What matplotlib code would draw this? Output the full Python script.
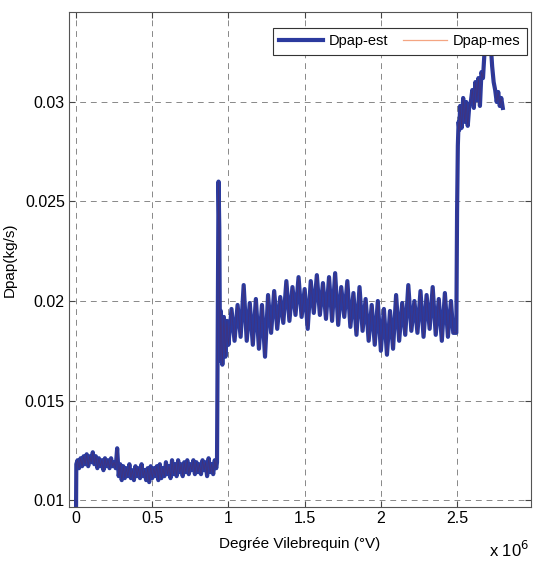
import numpy as np
import matplotlib
matplotlib.use('Agg')
import matplotlib.pyplot as plt

plt.rcParams['font.family'] = ['Liberation Sans', 'DejaVu Sans']

# degre vilebrequin (x 1e6) et debit (kg/s)
x_seg1 = [0.0, 0.002, 0.01, 0.02, 0.03, 0.04, 0.05, 0.06, 0.07, 0.08, 0.09,
          0.10, 0.11, 0.12, 0.13, 0.14, 0.15, 0.16, 0.17, 0.18, 0.19,
          0.20, 0.21, 0.22, 0.23, 0.24, 0.25, 0.26, 0.27, 0.28, 0.29,
          0.30, 0.31, 0.32, 0.33, 0.34, 0.35, 0.36, 0.37, 0.38, 0.39,
          0.40, 0.41, 0.42, 0.43, 0.44, 0.45, 0.46, 0.47, 0.48, 0.49,
          0.50, 0.51, 0.52, 0.53, 0.54, 0.55, 0.56, 0.57, 0.58, 0.59,
          0.60, 0.61, 0.62, 0.63, 0.64, 0.65, 0.66, 0.67, 0.68, 0.69,
          0.70, 0.71, 0.72, 0.73, 0.74, 0.75, 0.76, 0.77, 0.78, 0.79,
          0.80, 0.81, 0.82, 0.83, 0.84, 0.85, 0.86, 0.87, 0.88, 0.89,
          0.90, 0.91, 0.92, 0.925]
y_seg1 = [0.0093, 0.0118, 0.0120, 0.0116, 0.0121, 0.0117, 0.0122, 0.0118, 0.0123, 0.0117, 0.0122,
          0.0119, 0.0124, 0.0118, 0.0122, 0.0116, 0.0121, 0.0117, 0.0120, 0.0115, 0.0121,
          0.0117, 0.0120, 0.0116, 0.0121, 0.0117, 0.0119, 0.0116, 0.0126, 0.0112, 0.0118,
          0.0110, 0.0117, 0.0111, 0.0116, 0.0112, 0.0118, 0.0111, 0.0115, 0.0110, 0.0117,
          0.0112, 0.0116, 0.0111, 0.0118, 0.0112, 0.0115, 0.0110, 0.0116, 0.0109, 0.0117,
          0.0111, 0.0116, 0.0112, 0.0117, 0.0110, 0.0118, 0.0111, 0.0116, 0.0112, 0.0119,
          0.0113, 0.0117, 0.0111, 0.0120, 0.0113, 0.0118, 0.0112, 0.0120, 0.0114, 0.0118,
          0.0112, 0.0119, 0.0114, 0.0120, 0.0113, 0.0118, 0.0115, 0.0120, 0.0113, 0.0119,
          0.0114, 0.0118, 0.0113, 0.0120, 0.0115, 0.0119, 0.0112, 0.0121, 0.0114, 0.0118,
          0.0113, 0.0120, 0.0116, 0.0119]

x_seg2 = [0.935, 0.94, 0.945, 0.95, 0.96, 0.97, 0.98, 0.99,
          1.00, 1.02, 1.04, 1.06, 1.08, 1.10, 1.12, 1.14, 1.16, 1.18,
          1.20, 1.22, 1.24, 1.26, 1.28, 1.30, 1.32, 1.34, 1.36, 1.38,
          1.40, 1.42, 1.44, 1.46, 1.48, 1.50, 1.52, 1.54, 1.56, 1.58,
          1.60, 1.62, 1.64, 1.66, 1.68, 1.70, 1.72, 1.74, 1.76, 1.78,
          1.80, 1.82, 1.84, 1.86, 1.88, 1.90, 1.92, 1.94, 1.96, 1.98,
          2.00, 2.02, 2.04, 2.06, 2.08, 2.10, 2.12, 2.14, 2.16, 2.18,
          2.20, 2.22, 2.24, 2.26, 2.28, 2.30, 2.32, 2.34, 2.36, 2.38,
          2.40, 2.42, 2.44, 2.46, 2.475]
y_seg2 = [0.0260, 0.0237, 0.0170, 0.0195, 0.0168, 0.0192, 0.0172, 0.0190,
          0.0178, 0.0196, 0.0180, 0.0198, 0.0182, 0.0208, 0.0180, 0.0199, 0.0178, 0.0201,
          0.0176, 0.0198, 0.0172, 0.0203, 0.0184, 0.0205, 0.0186, 0.0202, 0.0189, 0.0210,
          0.0190, 0.0207, 0.0193, 0.0212, 0.0192, 0.0206, 0.0186, 0.0210, 0.0194, 0.0213,
          0.0193, 0.0209, 0.0191, 0.0212, 0.0190, 0.0214, 0.0188, 0.0207, 0.0192, 0.0210,
          0.0187, 0.0204, 0.0183, 0.0207, 0.0185, 0.0201, 0.0180, 0.0198, 0.0178, 0.0200,
          0.0175, 0.0196, 0.0173, 0.0195, 0.0176, 0.0203, 0.0180, 0.0199, 0.0183, 0.0208,
          0.0185, 0.0200, 0.0184, 0.0205, 0.0182, 0.0203, 0.0186, 0.0207, 0.0183, 0.0201,
          0.0180, 0.0204, 0.0182, 0.0200, 0.0184]

x_seg3 = [2.495, 2.50, 2.505, 2.51, 2.515, 2.52, 2.53, 2.54, 2.55, 2.56, 2.57,
          2.58, 2.59, 2.60, 2.61, 2.62, 2.63, 2.64, 2.65, 2.66, 2.67,
          2.68, 2.69, 2.70, 2.71, 2.72, 2.73, 2.74, 2.75, 2.76, 2.77,
          2.78, 2.79, 2.80]
y_seg3 = [0.0184, 0.0245, 0.0278, 0.0290, 0.0286, 0.0298, 0.0287, 0.0302, 0.0290, 0.0300, 0.0288,
          0.0298, 0.0300, 0.0306, 0.0297, 0.0310, 0.0301, 0.0312, 0.0298, 0.0315, 0.0312,
          0.0325, 0.0328, 0.0330, 0.0326, 0.0330, 0.0318, 0.0310, 0.0306, 0.0300, 0.0305,
          0.0298, 0.0302, 0.0297]

x = np.array(x_seg1 + x_seg2 + x_seg3) * 1e6
dpap_est = np.array(y_seg1 + y_seg2 + y_seg3)
dpap_mes = dpap_est.copy()

fig = plt.figure(figsize=(5.35, 5.63), dpi=100)
ax = fig.add_axes([69/535, 56/563, 462/535, 495/563])

ax.plot(x, dpap_est, color='#2b3a9e', lw=3.0, label='Dpap-est')
ax.plot(x, dpap_mes, color='#5a2a55', lw=0.5, alpha=0.5)
# ligne pour la legende seulement
ax.plot([], [], color='#f4a582', lw=0.9, label='Dpap-mes')

ax.set_xlim(-0.046e6, 2.985e6)
ax.set_ylim(0.00965, 0.03452)
ax.set_xticks([0, 0.5e6, 1e6, 1.5e6, 2e6, 2.5e6])
ax.set_xticklabels(['0', '0.5', '1', '1.5', '2', '2.5'])
ax.set_yticks([0.01, 0.015, 0.02, 0.025, 0.03])
ax.set_yticklabels(['0.01', '0.015', '0.02', '0.025', '0.03'])
ax.tick_params(direction='in', top=True, right=True, labelsize=11.5, length=4,
               color='#444444', pad=3)
ax.grid(True, linestyle=(0, (6, 5)), color='#888888', lw=0.7)
for s in ax.spines.values():
    s.set_color('#555555')
    s.set_linewidth(0.8)

ax.set_xlabel('Degrée Vilebrequin (°V)', fontsize=11, labelpad=8)
ax.set_ylabel('Dpap(kg/s)', fontsize=11, labelpad=6)
fig.text(0.99, 0.005, r'x 10$^6$', fontsize=12, ha='right', va='bottom')

leg = ax.legend(loc='upper right', bbox_to_anchor=(0.991, 0.968), ncol=2, fontsize=10.5,
                frameon=True, fancybox=False, borderaxespad=0, handlelength=3.0,
                handletextpad=0.4, columnspacing=1.0, borderpad=0.45,
                edgecolor='#333333', framealpha=1)
leg.get_frame().set_linewidth(0.8)

fig.savefig('out.png', dpi=100)
